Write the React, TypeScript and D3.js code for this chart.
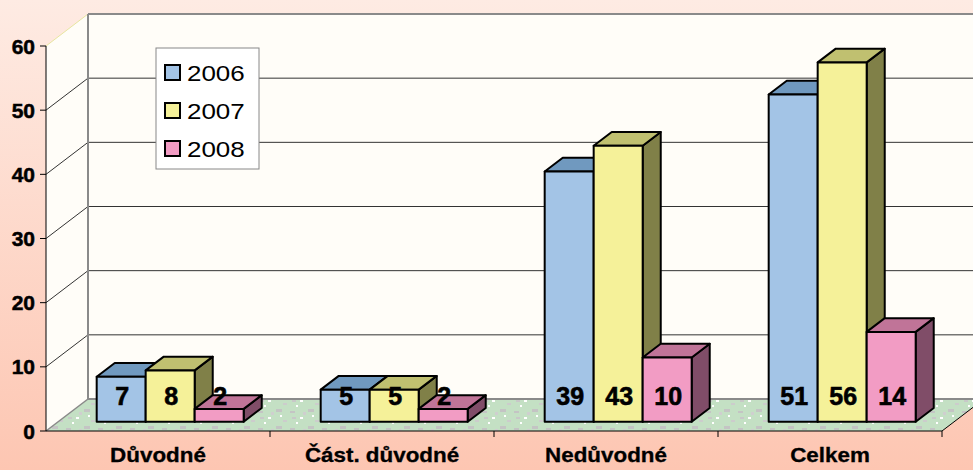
import React from "react";
import * as d3 from "d3";

const categories = ["Důvodné", "Část. důvodné", "Nedůvodné", "Celkem"];
const years = ["2006", "2007", "2008"];
const values2006 = [7, 5, 39, 51];
const values2007 = [8, 5, 43, 56];
const values2008 = [2, 2, 10, 14];
const yTicks = [0, 10, 20, 30, 40, 50, 60];

const seriesValues = [values2006, values2007, values2008];

// front, top, side colours per series
const colors = [
  { front: "#a3c4e6", top: "#7099bf", side: "#52739a" },
  { front: "#f5f199", top: "#c0c070", side: "#808048" },
  { front: "#f29cc4", top: "#c07498", side: "#804d68" },
];

const W = 973;
const H = 470;
// depth of the whole floor (front -> back wall)
const DX = 42;
const DY = 32;

const App = () => {
  const x = d3.scaleBand().domain(categories).range([46, 942]);
  const inner = d3
    .scaleBand()
    .domain(years)
    .range([0, x.bandwidth()])
    .paddingInner(0)
    .paddingOuter(0.786);
  const y = d3.scaleLinear().domain([0, 60]).range([431, 46]);

  const f0 = 0.29; // bar front depth fraction
  const f1 = 0.72; // bar back depth fraction
  const ox = DX * f0;
  const oy = DY * f0;
  const bdx = DX * (f1 - f0);
  const bdy = DY * (f1 - f0);

  // floor speckles (decoration)
  const speck = [
    [2, 3, 5, 2, "#c4c4c4"],
    [12, 9, 3, 2, "#ffffff"],
    [20, 1, 6, 3, "#c4c4c4"],
    [27, 12, 4, 2, "#cccccc"],
    [8, 14, 2, 2, "#ffffff"],
    [15, 4, 3, 3, "#cfcfcf"],
    [4, 9, 4, 2, "#c8c8c8"],
    [24, 7, 2, 2, "#ffffff"],
  ];

  const bars: any[] = [];
  categories.forEach((c, ci) => {
    years.forEach((yr, si) => {
      const v = seriesValues[si][ci];
      const x0 = (x(c) as number) + (inner(yr) as number) + ox;
      const w = inner.bandwidth();
      const base = y(0) - oy;
      const top = base - (y(0) - y(v));
      const col = colors[si];
      bars.push(
        <g key={c + yr} stroke="#000" strokeWidth={2} strokeLinejoin="round">
          <polygon
            fill={col.side}
            points={`${x0 + w},${base} ${x0 + w + bdx},${base - bdy} ${x0 + w + bdx},${top - bdy} ${x0 + w},${top}`}
          />
          <polygon
            fill={col.top}
            points={`${x0},${top} ${x0 + bdx},${top - bdy} ${x0 + w + bdx},${top - bdy} ${x0 + w},${top}`}
          />
          <rect fill={col.front} x={x0} y={top} width={w} height={base - top} />
        </g>
      );
    });
  });

  const labels: any[] = [];
  categories.forEach((c, ci) => {
    years.forEach((yr, si) => {
      const v = seriesValues[si][ci];
      const cx = (x(c) as number) + (inner(yr) as number) + ox + inner.bandwidth() / 2 + 1;
      labels.push(
        <text
          key={"l" + c + yr}
          x={cx}
          y={405}
          textAnchor="middle"
          fontSize={25}
          fontWeight="bold"
          fill="#000"
          stroke="#000"
          strokeWidth={0.6}
        >
          {v}
        </text>
      );
    });
  });

  const x0 = 46;
  const x1 = 942;

  return (
    <svg
      width={W}
      height={H}
      style={{ position: "absolute", left: 0, top: 0 }}
      fontFamily="'Liberation Sans', Arial, sans-serif"
    >
      <defs>
        <linearGradient id="bg" x1="0" y1="0" x2="0" y2="1">
          <stop offset="0" stopColor="#feebe3" />
          <stop offset="1" stopColor="#fdc6b2" />
        </linearGradient>
        <pattern id="floor" width="32" height="17" patternUnits="userSpaceOnUse">
          <rect width="32" height="17" fill="#c4e0c4" />
          {speck.map((s, i) => (
            <rect key={i} x={s[0]} y={s[1]} width={s[2]} height={s[3]} fill={s[4] as string} />
          ))}
        </pattern>
      </defs>
      <rect width={W} height={H} fill="url(#bg)" />

      {/* back wall */}
      <rect x={x0 + DX} y={y(60) - DY} width={W - x0 - DX} height={y(0) - y(60)} fill="#fffdf8" />
      {/* side wall */}
      <polygon
        fill="#fffdf8"
        points={`${x0},${y(60)} ${x0 + DX},${y(60) - DY} ${x0 + DX},${y(0) - DY} ${x0},${y(0)}`}
      />
      {/* grid lines */}
      {yTicks.slice(1).map((t) => (
        <g key={t} stroke={t === 60 ? "#e8e6a0" : "#333"} strokeWidth={1}>
          <line x1={x0} y1={y(t)} x2={x0 + DX} y2={y(t) - DY} />
          {t !== 60 && <line x1={x0 + DX} y1={y(t) - DY} x2={W} y2={y(t) - DY} />}
        </g>
      ))}
      <line x1={x0 + DX} y1={y(60) - DY} x2={W} y2={y(60) - DY} stroke="#8a8a8a" strokeWidth={2} />
      <line x1={x0 + DX} y1={y(60) - DY} x2={x0 + DX} y2={y(0) - DY} stroke="#8a8a8a" strokeWidth={2} />

      {/* floor */}
      <polygon
        fill="url(#floor)"
        points={`${x0},${y(0)} ${x1},${y(0)} ${x1 + DX},${y(0) - DY} ${x0 + DX},${y(0) - DY}`}
      />
      <line x1={x0} y1={y(0)} x2={x0 + DX} y2={y(0) - DY} stroke="#8a8a8a" strokeWidth={1.5} />
      <line x1={x0 + DX} y1={y(0) - DY} x2={W} y2={y(0) - DY} stroke="#8a8a8a" strokeWidth={2} />

      {bars}
      {labels}

      {/* front axes */}
      <line x1={x0} y1={y(60)} x2={x0} y2={y(0)} stroke="#000" strokeWidth={1} />
      <line x1={x0} y1={y(0)} x2={x1} y2={y(0)} stroke="#000" strokeWidth={1} />
      <line x1={x1} y1={y(0)} x2={x1 + DX} y2={y(0) - DY} stroke="#000" strokeWidth={1} />
      {yTicks.map((t) => (
        <g key={"t" + t}>
          <line x1={x0 - 6} y1={y(t)} x2={x0} y2={y(t)} stroke="#000" />
          <text
            x={35}
            y={y(t) + 7.5}
            textAnchor="end"
            fontSize={21}
            fontWeight="bold"
            stroke="#000"
            strokeWidth={0.5}
          >
            {t}
          </text>
        </g>
      ))}
      {categories.map((c) => (
        <g key={"c" + c}>
          <line
            x1={(x(c) as number) + x.bandwidth()}
            y1={y(0)}
            x2={(x(c) as number) + x.bandwidth()}
            y2={y(0) + 6}
            stroke="#000"
          />
          <text
            transform={`translate(${(x(c) as number) + x.bandwidth() / 2},462) scale(1.12,1)`}
            textAnchor="middle"
            fontSize={20}
            fontWeight="bold"
            stroke="#000"
            strokeWidth={0.3}
          >
            {c}
          </text>
        </g>
      ))}

      {/* legend */}
      <g>
        <rect x={156} y={48} width={103} height={121} fill="#fff" stroke="#888" strokeWidth={1} />
        {years.map((yr, i) => (
          <g key={"lg" + yr} transform={`translate(165,${72 + i * 38})`}>
            <rect x={0} y={-7} width={15} height={15} fill={colors[i].front} stroke="#000" strokeWidth={2} />
            <text transform="translate(22,8.5) scale(1.18,1)" fontSize={22}>
              {yr}
            </text>
          </g>
        ))}
      </g>
    </svg>
  );
};

export default App;
